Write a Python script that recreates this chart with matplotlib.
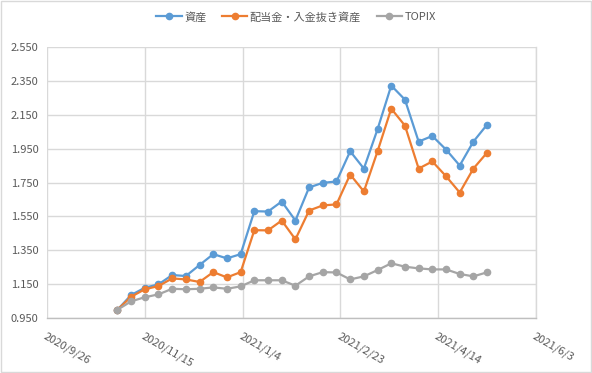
import matplotlib
matplotlib.use("Agg")
import matplotlib.pyplot as plt
import matplotlib.dates as mdates
import numpy as np
import datetime as dt
from matplotlib.patches import Rectangle

plt.rcParams['font.family'] = ['Noto Sans CJK JP', 'DejaVu Sans']

start = dt.date(2020, 11, 1)
dates = [start + dt.timedelta(days=7 * i) for i in range(28)]

asset = [1.000, 1.087, 1.130, 1.150, 1.205, 1.199, 1.264, 1.328, 1.303, 1.328,
         1.581, 1.579, 1.638, 1.526, 1.721, 1.748, 1.756, 1.934, 1.832, 2.064,
         2.321, 2.238, 1.991, 2.024, 1.944, 1.850, 1.991, 2.091]
asset_ex = [1.000, 1.077, 1.121, 1.140, 1.185, 1.179, 1.164, 1.222, 1.191, 1.222,
            1.469, 1.468, 1.526, 1.415, 1.585, 1.615, 1.621, 1.797, 1.697, 1.934,
            2.185, 2.085, 1.832, 1.874, 1.787, 1.691, 1.832, 1.926]
topix = [1.000, 1.050, 1.074, 1.091, 1.124, 1.121, 1.124, 1.132, 1.124, 1.138,
         1.174, 1.174, 1.174, 1.142, 1.197, 1.222, 1.220, 1.179, 1.197, 1.234,
         1.274, 1.254, 1.244, 1.238, 1.238, 1.211, 1.197, 1.221]

series_names = ['資産', '配当金・入金抜き資産', 'TOPIX']
colors = ['#5B9BD5', '#ED7D31', '#A5A5A5']

xtick_dates = [dt.date(2020, 9, 26) + dt.timedelta(days=50 * i) for i in range(6)]
xtick_labels = ['2020/9/26', '2020/11/15', '2021/1/4', '2021/2/23', '2021/4/14', '2021/6/3']
yticks = [0.95, 1.15, 1.35, 1.55, 1.75, 1.95, 2.15, 2.35, 2.55]
ytick_labels = ['0.950', '1.150', '1.350', '1.550', '1.750', '1.950', '2.150', '2.350', '2.550']

fig = plt.figure(figsize=(5.92, 3.73), dpi=100)
ax = fig.add_axes([47/592, 1 - 318.3/373, (536 - 47)/592, (318.3 - 46.7)/373])

for vals, name, c in zip([asset, asset_ex, topix], series_names, colors):
    ax.plot(dates, vals, color=c, lw=1.6, marker='o', markersize=4.5, label=name,
            solid_joinstyle='round')

ax.set_xlim(xtick_dates[0], xtick_dates[-1])
ax.set_ylim(0.95, 2.55)
ax.set_xticks(xtick_dates)
ax.set_xticklabels(xtick_labels, rotation=-30, ha='left', va='top',
                   rotation_mode='anchor', color='#595959', fontsize=8)
ax.set_yticks(yticks)
ax.set_yticklabels(ytick_labels, color='#595959', fontsize=8)
ax.tick_params(axis='both', length=0)
ax.tick_params(axis='x', pad=9)
ax.tick_params(axis='y', pad=6)
ax.grid(True, color='#D9D9D9', lw=1)
ax.set_axisbelow(True)
for s in ['top', 'left']:
    ax.spines[s].set_visible(False)
ax.spines['right'].set_color('#D9D9D9')
ax.spines['right'].set_linewidth(1)
ax.spines['bottom'].set_color('#BFBFBF')
ax.spines['bottom'].set_linewidth(1)

leg = fig.legend(loc='center', bbox_to_anchor=(0.5, 1 - 17/373), ncol=3,
                 frameon=False, fontsize=8, handlelength=2.3, handletextpad=0.2,
                 columnspacing=1.4, labelcolor='#595959')

fig.patches.append(Rectangle((0.001, 0.002), 0.997, 0.995, transform=fig.transFigure,
                             fill=False, edgecolor='#D9D9D9', lw=1))

fig.savefig('out.png', dpi=100)
